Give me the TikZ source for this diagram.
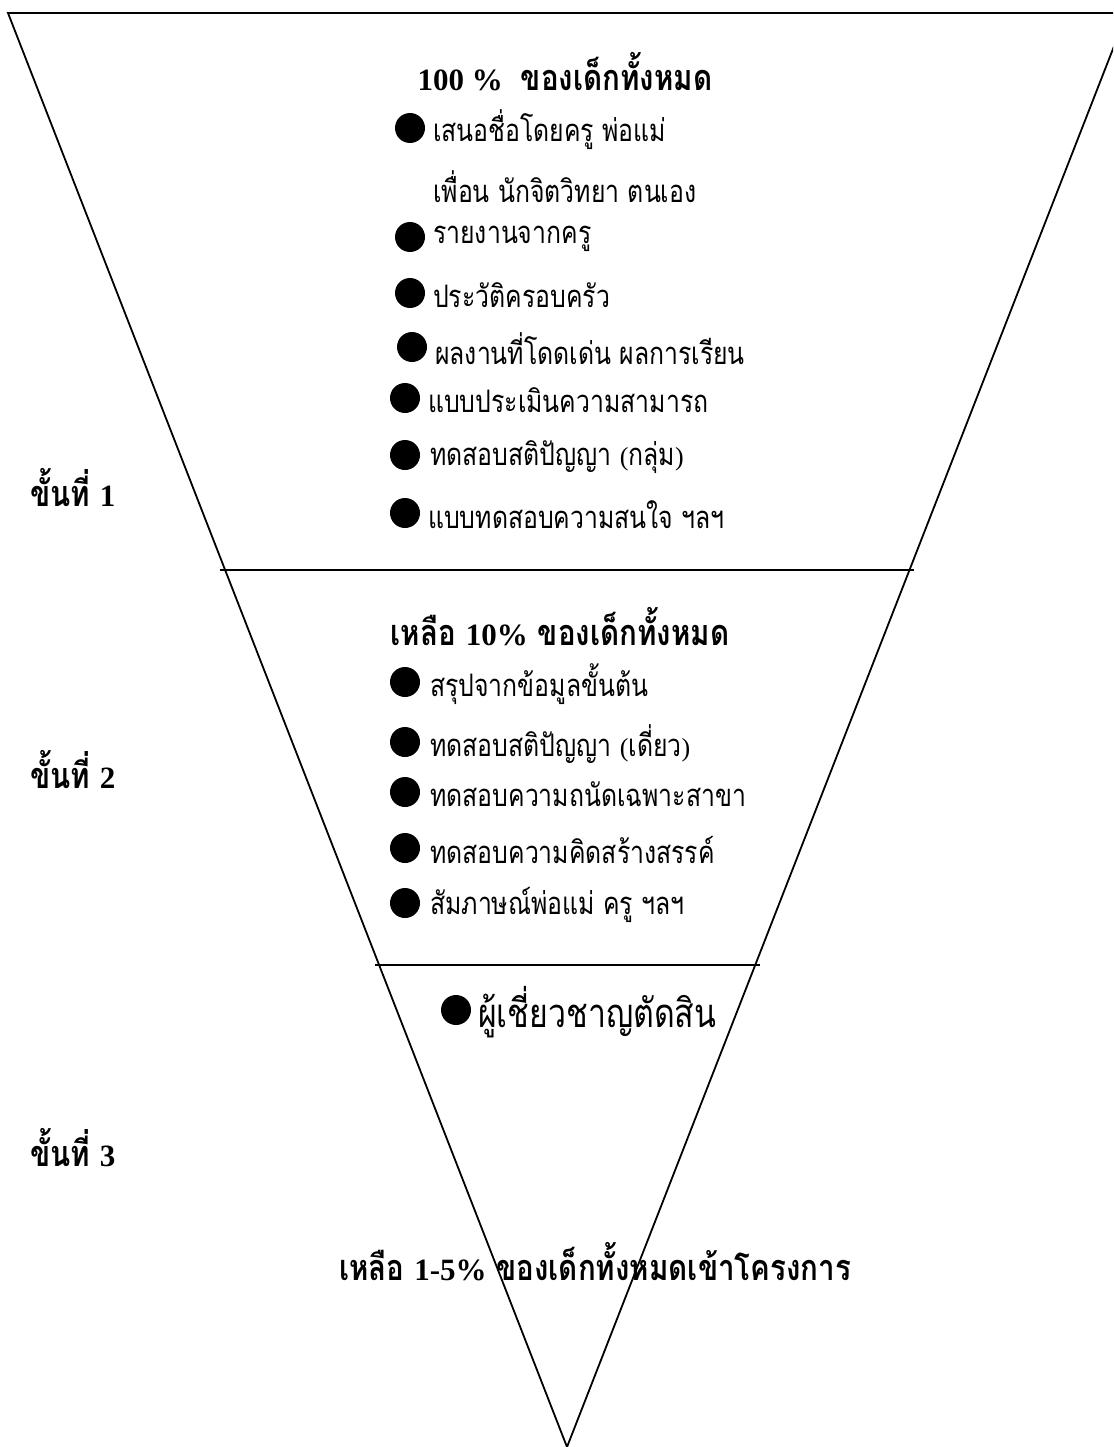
\documentclass[tikz,border=0pt]{standalone}
\usepackage{fontspec}
\newfontfamily\thaiN[Script=Thai,FakeStretch=0.8]{Loma}
\newfontfamily\thaiT[Script=Thai,FakeStretch=0.82]{Loma}
\newfontfamily\lat{Liberation Serif}
\newcommand{\Lt}[1]{{\lat #1}}
\begin{document}
\begin{tikzpicture}[x=1pt,y=-1pt,
  edge/.style={line width=1.8pt, line join=miter},
  sep/.style={line width=1.8pt},
  item/.style={anchor=west, inner sep=0pt, font=\thaiN\fontsize{31}{34}\selectfont},
  bigitem/.style={anchor=west, inner sep=0pt, font=\thaiN\fontsize{40}{44}\selectfont},
  ttl/.style={inner sep=0pt, font=\thaiT\bfseries\fontsize{36}{40}\selectfont},
  stage/.style={anchor=west, inner sep=0pt, font=\thaiT\bfseries\fontsize{36}{40}\selectfont},
  bul/.style={circle, fill=black, inner sep=0pt, minimum size=30pt}]
\useasboundingbox (0,0) rectangle (1113,1447);
\clip (0,0) rectangle (1113,1447);
% funnel
\coordinate (tl) at (8,13);
\coordinate (tr) at (1127,13);
\coordinate (ap) at (567,1447);
\draw[edge] (tl) -- (tr) -- (ap) -- cycle;
\coordinate (h1l) at (220,570);
\coordinate (h1r) at (914,570);
\coordinate (h2l) at (375,965);
\coordinate (h2r) at (760,965);
\draw[sep] (h1l) -- (h1r);
\draw[sep] (h2l) -- (h2r);
% section 1
\node[ttl] (t1) at (565,72) {\Lt{\fontsize{31}{34}\selectfont 100 \%}\enspace ของเด็กทั้งหมด};
\node[bul] (b11) at (410,128) {};
\node[item] (i11) at (433,130) {เสนอชื่อโดยครู พ่อแม่};
\node[item] (i11b) at (433,187) {เพื่อน นักจิตวิทยา ตนเอง};
\node[bul] (b12) at (410,237) {};
\node[item] (i12) at (433,239) {รายงานจากครู};
\node[bul] (b13) at (410,293) {};
\node[item] (i13) at (433,295) {ประวัติครอบครัว};
\node[bul] (b14) at (412,347) {};
\node[item] (i14) at (435,349) {ผลงานที่โดดเด่น ผลการเรียน};
\node[bul] (b15) at (405,398) {};
\node[item] (i15) at (428,400) {แบบประเมินความสามารถ};
\node[bul] (b16) at (405,455) {};
\node[item] (i16) at (430,457) {ทดสอบสติปัญญา \Lt{\fontsize{26}{30}\selectfont(}กลุ่ม\Lt{\fontsize{26}{30}\selectfont)}};
\node[bul] (b17) at (405,513) {};
\node[item] (i17) at (428,515) {แบบทดสอบความสนใจ ฯลฯ};
% section 2
\node[ttl] (t2) at (560,627) {เหลือ \Lt{\fontsize{31}{34}\selectfont 10\%} ของเด็กทั้งหมด};
\node[bul] (b21) at (405,682) {};
\node[item] (i21) at (430,684) {สรุปจากข้อมูลขั้นต้น};
\node[bul] (b22) at (405,742) {};
\node[item] (i22) at (430,744) {ทดสอบสติปัญญา \Lt{\fontsize{26}{30}\selectfont(}เดี่ยว\Lt{\fontsize{26}{30}\selectfont)}};
\node[bul] (b23) at (405,792) {};
\node[item] (i23) at (430,794) {ทดสอบความถนัดเฉพาะสาขา};
\node[bul] (b24) at (405,848) {};
\node[item] (i24) at (430,850) {ทดสอบความคิดสร้างสรรค์};
\node[bul] (b25) at (405,903) {};
\node[item] (i25) at (430,905) {สัมภาษณ์พ่อแม่ ครู ฯลฯ};
% section 3
\node[bul] (b31) at (456,1010) {};
\node[bigitem] (i31) at (478,1012) {ผู้เชี่ยวชาญตัดสิน};
\node[ttl] (t3) at (595,1262) {เหลือ \Lt{\fontsize{31}{34}\selectfont 1-5\%} ของเด็กทั้งหมดเข้าโครงการ};
% stages
\node[stage] (s1) at (30,488) {ขั้นที่ \Lt{\fontsize{31}{34}\selectfont 1}};
\node[stage] (s2) at (30,770) {ขั้นที่ \Lt{\fontsize{31}{34}\selectfont 2}};
\node[stage] (s3) at (30,1148) {ขั้นที่ \Lt{\fontsize{31}{34}\selectfont 3}};
\end{tikzpicture}
\end{document}
